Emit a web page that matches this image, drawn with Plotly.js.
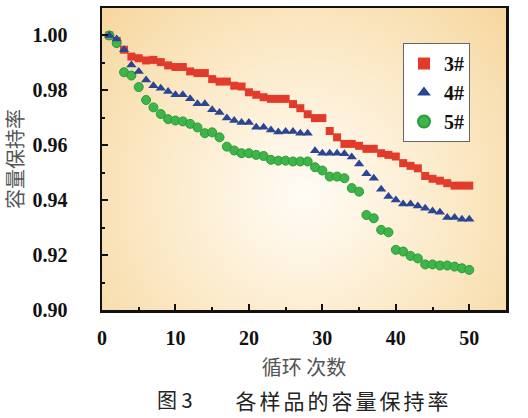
<!DOCTYPE html>
<html>
<head>
<meta charset="utf-8">
<script src="https://cdn.plot.ly/plotly-3.0.1.min.js"></script>
<style>
  html, body { margin: 0; padding: 0; background: #ffffff; }
  #chart { width: 528px; height: 418px; }
  .annotation[data-index="1"] text { letter-spacing: 3px; }
</style>
</head>
<body>
<div id="chart"></div>
<script>
// ---- data ----
var cycles = [1,2,3,4,5,6,7,8,9,10,11,12,13,14,15,16,17,18,19,20,21,22,23,24,25,
              26,27,28,29,30,31,32,33,34,35,36,37,38,39,40,41,42,43,44,45,46,47,48,49,50];

var s3 = [1.000,0.9980,0.9948,0.9923,0.9917,0.9909,0.9911,0.9903,0.9891,0.9885,
          0.9885,0.9869,0.9863,0.9863,0.9841,0.9832,0.9832,0.9817,0.9814,0.9793,
          0.9784,0.9775,0.9769,0.9769,0.9769,0.9750,0.9735,0.9713,0.9699,0.9699,
          0.9652,0.9629,0.9605,0.9605,0.9598,0.9587,0.9587,0.9571,0.9565,0.9559,
          0.9535,0.9525,0.9516,0.9488,0.9478,0.9471,0.9462,0.9453,0.9453,0.9453];

var s4 = [1.000,0.9987,0.9948,0.9892,0.9869,0.9838,0.9817,0.9808,0.9796,0.9784,
          0.9784,0.9769,0.9751,0.9751,0.9729,0.9719,0.9699,0.9690,0.9683,0.9683,
          0.9666,0.9666,0.9656,0.9648,0.9650,0.9650,0.9644,0.9644,0.9580,0.9571,
          0.9571,0.9571,0.9569,0.9557,0.9532,0.9496,0.9480,0.9440,0.9413,0.9401,
          0.9386,0.9386,0.9379,0.9371,0.9361,0.9356,0.9337,0.9337,0.9331,0.9331];

var s5 = [1.000,0.9972,0.9866,0.9854,0.9812,0.9765,0.9738,0.9714,0.9695,0.9690,
          0.9687,0.9678,0.9665,0.9644,0.9647,0.9629,0.9595,0.9581,0.9571,0.9571,
          0.9565,0.9561,0.9547,0.9544,0.9544,0.9541,0.9541,0.9541,0.9520,0.9508,
          0.9486,0.9486,0.9480,0.9444,0.9431,0.9346,0.9334,0.9292,0.9283,0.9219,
          0.9213,0.9197,0.9188,0.9166,0.9166,0.9162,0.9162,0.9158,0.9152,0.9146];

var seriesNames = ['3#', '4#', '5#'];
var xTickVals = [0, 10, 20, 30, 40, 50];
var yTickVals = [0.90, 0.92, 0.94, 0.96, 0.98, 1.00];
var yTickText = ['0.90', '0.92', '0.94', '0.96', '0.98', '1.00'];

// ---- background gradient image ----
function gradientURL() {
  var w = 404, h = 302;
  var c = document.createElement('canvas');
  c.width = w; c.height = h;
  var ctx = c.getContext('2d');
  var cx = w * 0.5, cy = h * 0.62;
  var r = Math.sqrt(cx * cx + cy * cy) * 1.0;
  var g = ctx.createRadialGradient(cx, cy, 0, cx, cy, r);
  g.addColorStop(0.0, '#fffcf6');
  g.addColorStop(0.35, '#fdf0d8');
  g.addColorStop(0.75, '#f9e1b5');
  g.addColorStop(1.0, '#f6d69e');
  ctx.fillStyle = g;
  ctx.fillRect(0, 0, w, h);
  return c.toDataURL('image/png');
}

var serif = "Liberation Serif";
var cjk = 'Noto Sans CJK SC';
var tickFont = {family: serif, size: 20, color: '#111111', weight: 'bold'};

var traces = [
  {x: cycles, y: s3, name: seriesNames[0], type: 'scatter', mode: 'markers', legendrank: 1,
   marker: {symbol: 'square', size: 8, color: '#e23b2b', line: {width: 0}}},
  {x: cycles, y: s5, name: seriesNames[2], type: 'scatter', mode: 'markers', legendrank: 3,
   marker: {symbol: 'circle', size: 9, color: '#3db548', line: {width: 1, color: '#2c9a39'}}},
  {x: cycles, y: s4, name: seriesNames[1], type: 'scatter', mode: 'markers', legendrank: 2,
   marker: {symbol: 'triangle-up', size: 9, color: '#2b4595', line: {width: 0}}}
];

var layout = {
  width: 528, height: 418,
  margin: {l: 102, r: 22, t: 8, b: 108},
  paper_bgcolor: '#ffffff',
  plot_bgcolor: 'rgba(0,0,0,0)',
  showlegend: true,
  legend: {
    x: 0.745, y: 0.884, xanchor: 'left', yanchor: 'top',
    bgcolor: '#ffffff', bordercolor: '#666666', borderwidth: 1,
    font: {family: serif, size: 20, color: '#111111', weight: 'bold'},
    tracegroupgap: 0, itemsizing: 'constant'
  },
  xaxis: {
    range: [0, 55], tickvals: xTickVals, ticktext: xTickVals.map(String),
    ticks: 'inside', ticklen: 6, tickwidth: 2, tickcolor: '#111111',
    minor: {dtick: 5, ticks: 'inside', ticklen: 3, tickwidth: 2, tickcolor: '#111111'},
    showline: true, linecolor: '#111111', linewidth: 2.5, mirror: true,
    showgrid: false, zeroline: false,
    tickfont: tickFont, ticklabelstandoff: 8,
    title: {text: '循环 次数', standoff: 14,
            font: {family: cjk, size: 20, color: '#555555'}}
  },
  yaxis: {
    range: [0.90, 1.01], tickvals: yTickVals, ticktext: yTickText,
    ticks: 'inside', ticklen: 6, tickwidth: 2, tickcolor: '#111111',
    minor: {tickvals: [0.91, 0.93, 0.95, 0.97, 0.99], ticks: 'inside', ticklen: 3, tickwidth: 2, tickcolor: '#111111'},
    showline: true, linecolor: '#111111', linewidth: 2.5, mirror: true,
    showgrid: false, zeroline: false,
    tickfont: tickFont, ticklabelstandoff: 28,
    title: {text: '容量保持率', standoff: 14,
            font: {family: cjk, size: 20, color: '#555555'}}
  },
  images: [{
    source: gradientURL(), xref: 'paper', yref: 'paper',
    x: 0, y: 1, sizex: 1, sizey: 1, sizing: 'stretch', layer: 'below',
    xanchor: 'left', yanchor: 'top'
  }],
  annotations: [
    {text: '图 3', xref: 'paper', yref: 'paper', x: 0.18, y: -0.298, xanchor: 'center', yanchor: 'middle',
     showarrow: false, font: {family: cjk, size: 20, color: '#222222'}},
    {text: '各样品的容量保持率', xref: 'paper', yref: 'paper', x: 0.597, y: -0.298, xanchor: 'center', yanchor: 'middle',
     showarrow: false, font: {family: cjk, size: 21, color: '#222222'}}
  ]
};

Plotly.newPlot('chart', traces, layout, {displayModeBar: false, staticPlot: true});
</script>
</body>
</html>
